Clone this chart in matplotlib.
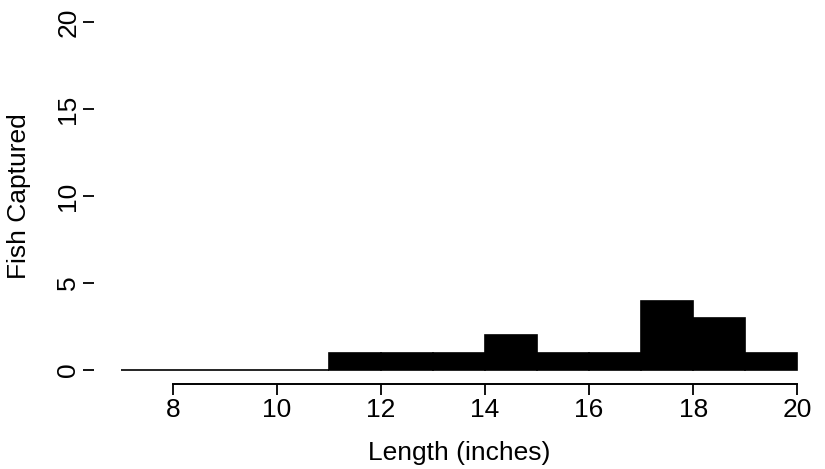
import matplotlib
matplotlib.use("Agg")
import matplotlib.pyplot as plt

bin_edges = [7, 8, 9, 10, 11, 12, 13, 14, 15, 16, 17, 18, 19, 20]
counts = [0, 0, 0, 0, 1, 1, 1, 2, 1, 1, 4, 3, 1]
x_ticks = [8, 10, 12, 14, 16, 18, 20]
y_ticks = [0, 5, 10, 15, 20]

plt.rcParams['font.family'] = ['Liberation Sans', 'DejaVu Sans']

fig = plt.figure(figsize=(8.25, 4.69), dpi=100)
ax = fig.add_axes([0.114, 0.181, 0.885, 0.802])

lefts = bin_edges[:-1]
widths = [b - a for a, b in zip(bin_edges[:-1], bin_edges[1:])]
ax.bar(lefts, counts, width=widths, align='edge', color='black',
       edgecolor='black', linewidth=1.2)

ax.set_xlim(6.48, 20.52)
ax.set_ylim(-0.8, 20.8)

for s in ['top', 'right', 'left']:
    ax.spines[s].set_visible(False)
ax.spines['bottom'].set_bounds(8, 20)
ax.spines['bottom'].set_linewidth(1.4)

ax.set_xticks(x_ticks)
ax.set_xticklabels([str(t) for t in x_ticks])
ax.set_yticks(y_ticks)
ax.set_yticklabels([str(t) for t in y_ticks], rotation=90, va='center')
ax.tick_params(axis='both', direction='out', length=8, width=1.3, labelsize=19)
ax.tick_params(axis='x', pad=2)
ax.tick_params(axis='y', pad=2)

ax.set_xlabel('Length (inches)', fontsize=19, labelpad=14)
ax.set_ylabel('Fish Captured', fontsize=19, labelpad=18)

fig.savefig('out.png', dpi=100)
